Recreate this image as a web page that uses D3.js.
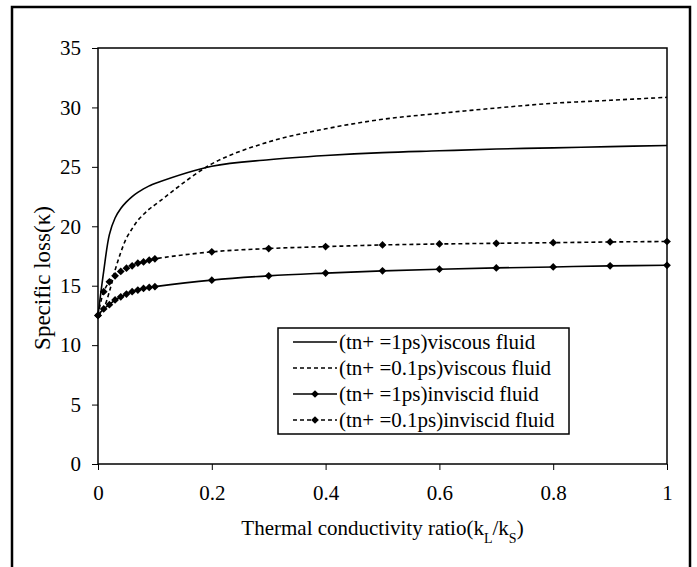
<!DOCTYPE html>
<html>
<head>
<meta charset="utf-8">
<script src="https://cdn.jsdelivr.net/npm/d3@7"></script>
<style>
  body { margin: 0; background: #fff; }
  text { font-family: "Liberation Serif", "Times New Roman", serif; fill: #000; }
</style>
</head>
<body>
<div id="chart"></div>
<script>
// values
const ratios = [0, 0.01, 0.02, 0.03, 0.04, 0.05, 0.06, 0.07, 0.08, 0.09, 0.1, 0.2, 0.3, 0.4, 0.5, 0.6, 0.7, 0.8, 0.9, 1];
const viscous1ps = [12.5, 16.2, 19.3, 20.7, 21.5, 22.05, 22.5, 22.85, 23.15, 23.4, 23.6, 25.05, 25.6, 25.95, 26.2, 26.35, 26.5, 26.6, 26.7, 26.8];
const viscous01ps = [12.5, 13.1, 14.5, 16.3, 17.8, 19.0, 19.8, 20.5, 21.0, 21.45, 21.8, 25.25, 27.1, 28.2, 29.0, 29.5, 29.95, 30.35, 30.6, 30.85];
const inviscid1ps = [12.5, 13.05, 13.4, 13.8, 14.07, 14.3, 14.5, 14.63, 14.77, 14.85, 14.92, 15.47, 15.83, 16.06, 16.25, 16.39, 16.5, 16.58, 16.67, 16.72];
const inviscid01ps = [12.5, 14.5, 15.33, 15.83, 16.2, 16.47, 16.67, 16.9, 17.0, 17.15, 17.26, 17.85, 18.13, 18.29, 18.43, 18.51, 18.57, 18.62, 18.68, 18.72];
const xTicks = [0, 0.2, 0.4, 0.6, 0.8, 1];
const yTicks = [0, 5, 10, 15, 20, 25, 30, 35];
const legendLabels = ["(tn+ =1ps)viscous fluid", "(tn+ =0.1ps)viscous fluid", "(tn+ =1ps)inviscid fluid", "(tn+ =0.1ps)inviscid fluid"];

const W = 697, H = 567;
const margin = {top: 48, right: 30, bottom: 103, left: 98};
const w = W - margin.left - margin.right;
const h = H - margin.top - margin.bottom;
const font = '"Liberation Serif", "Times New Roman", serif';

const series = [
  {values: viscous1ps, dash: null, markers: false},
  {values: viscous01ps, dash: "4,3", markers: false},
  {values: inviscid1ps, dash: null, markers: true},
  {values: inviscid01ps, dash: "4,3", markers: true}
];

const svg = d3.select('#chart').append('svg')
  .attr('width', W)
  .attr('height', H);

// outer frame
svg.append('rect')
  .attr('x', 12).attr('y', 7)
  .attr('width', 678).attr('height', 600)
  .attr('fill', 'none')
  .attr('stroke', '#000')
  .attr('stroke-width', 2.5);

const g = svg.append('g')
  .attr('transform', 'translate(' + margin.left + ',' + margin.top + ')');

const x = d3.scaleLinear().domain([0, 1]).range([0, w]);
const y = d3.scaleLinear().domain([0, 35]).range([h, 0]);

g.append('g')
  .attr('transform', 'translate(0,' + h + ')')
  .call(d3.axisBottom(x).tickValues(xTicks).tickSize(6).tickSizeOuter(0).tickPadding(15)
    .tickFormat(d => d === 0 || d === 1 ? d3.format('d')(d) : d3.format('.1f')(d)))
  .call(a => a.select('.domain').remove())
  .call(a => a.selectAll('text').style('font-size', '21px').style('font-family', font));

g.append('g')
  .call(d3.axisLeft(y).tickValues(yTicks).tickSize(6).tickSizeOuter(0).tickPadding(11))
  .call(a => a.select('.domain').remove())
  .call(a => a.selectAll('text').style('font-size', '21px').style('font-family', font));

// plot box
g.append('rect')
  .attr('width', w).attr('height', h)
  .attr('fill', 'none')
  .attr('stroke', '#000')
  .attr('stroke-width', 1.5);

const line = d3.line()
  .x((d, i) => x(ratios[i]))
  .y(d => y(d))
  .curve(d3.curveCatmullRom.alpha(0.5));

const diamond = d3.symbol().type(d3.symbolSquare).size(30);

series.forEach(s => {
  g.append('path')
    .datum(s.values)
    .attr('d', line)
    .attr('fill', 'none')
    .attr('stroke', '#000')
    .attr('stroke-width', 1.6)
    .attr('stroke-dasharray', s.dash);
  if (s.markers) {
    g.selectAll(null)
      .data(s.values)
      .enter()
      .append('path')
      .attr('d', diamond)
      .attr('transform', (d, i) => 'translate(' + x(ratios[i]) + ',' + y(d) + ') rotate(45)')
      .attr('fill', '#000');
  }
});

// legend
const leg = svg.append('g').attr('transform', 'translate(278,328)');
leg.append('rect')
  .attr('width', 291).attr('height', 106)
  .attr('fill', '#fff')
  .attr('stroke', '#000')
  .attr('stroke-width', 1.5);

legendLabels.forEach((lab, i) => {
  const s = series[i];
  const ly = 14 + i * 26;
  leg.append('line')
    .attr('x1', 15).attr('x2', 59)
    .attr('y1', ly).attr('y2', ly)
    .attr('stroke', '#000')
    .attr('stroke-width', 1.6)
    .attr('stroke-dasharray', s.dash);
  if (s.markers) {
    leg.append('path')
      .attr('d', diamond)
      .attr('transform', 'translate(37,' + ly + ') rotate(45)');
  }
  leg.append('text')
    .attr('x', 61).attr('y', ly)
    .attr('dy', '0.35em')
    .style('font-size', '21px')
    .text(lab);
});

// axis titles
const xt = svg.append('text')
  .attr('x', margin.left + w / 2)
  .attr('y', 535)
  .attr('text-anchor', 'middle')
  .style('font-size', '21px');
xt.append('tspan').text('Thermal conductivity ratio(k');
xt.append('tspan').attr('baseline-shift', 'sub').style('font-size', '14px').text('L');
xt.append('tspan').text('/k');
xt.append('tspan').attr('baseline-shift', 'sub').style('font-size', '14px').text('S');
xt.append('tspan').text(')');

svg.append('text')
  .attr('transform', 'translate(42,278) rotate(-90)')
  .attr('text-anchor', 'middle')
  .attr('dy', '0.35em')
  .style('font-size', '23px')
  .text('Specific loss(κ)');
</script>
</body>
</html>
